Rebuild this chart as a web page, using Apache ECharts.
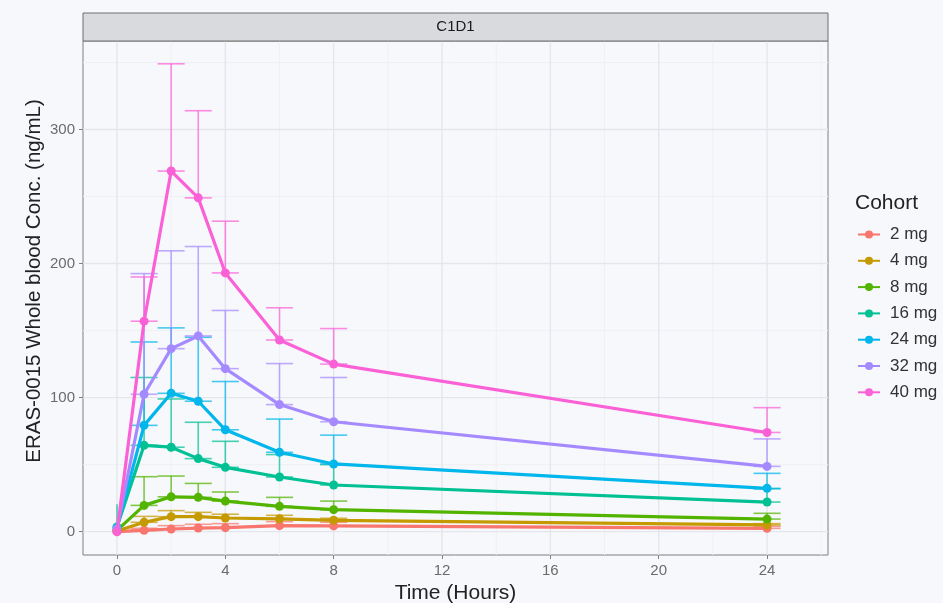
<!DOCTYPE html>
<html>
<head>
<meta charset="utf-8">
<script src="https://cdn.jsdelivr.net/npm/echarts@6/dist/echarts.min.js"></script>
<style>
  html, body { margin: 0; padding: 0; background: #f7f8fc; }
  #chart { width: 943px; height: 603px; }
</style>
</head>
<body>
<div id="chart"></div>
<script>
// sampling times (hours)
const times = [0, 1, 2, 3, 4, 6, 8, 24]
const cohorts = ['2 mg', '4 mg', '8 mg', '16 mg', '24 mg', '32 mg', '40 mg']
const colorList = ['#F8766D', '#C49A00', '#53B400', '#00C094', '#00B6EB', '#A58AFF', '#FB61D7']

// mean concentration per cohort
const mean2 = [0, 1, 2, 2.7, 3, 4.5, 4.3, 2.5]
const mean4 = [0.5, 7, 11.2, 11.2, 10.2, 9.6, 8.5, 5]
const mean8 = [1, 19.6, 26, 25.6, 22.8, 18.9, 16.4, 9.4]
const mean16 = [3.5, 64.4, 63, 54.5, 48, 40.8, 34.8, 22.1]
const mean24 = [3, 79.3, 103.2, 97.3, 76, 59.2, 50.5, 32.3]
const mean32 = [2, 102.5, 136.5, 146, 121.6, 94.8, 82, 48.7]
const mean40 = [0, 157, 269, 249, 193, 143, 125, 74]

// mean + SD (upper end of error bar), null = no bar
const upper2 = [null, 2.5, 4.5, 5.5, 6, 7.5, 7, 4]
const upper4 = [null, 11.4, 15.7, 14.4, 13, 12.2, 10, 6]
const upper8 = [null, 41, 41.5, 36, 29.6, 25.6, 22.8, 13.7]
const upper16 = [20.5, 115, 99, 81.6, 67.4, 57.5, 50, 32]
const upper24 = [null, 141.5, 152, 145, 112, 84, 72, 43.5]
const upper32 = [null, 192.5, 209.5, 212.7, 165, 125.4, 115, 69.2]
const upper40 = [null, 190, 349, 314, 231.6, 167, 151.5, 92.5]

const means = [mean2, mean4, mean8, mean16, mean24, mean32, mean40]
const uppers = [upper2, upper4, upper8, upper16, upper24, upper32, upper40]

// axis ticks / grid lines
const xTicks = [0, 4, 8, 12, 16, 20, 24]
const xMinor = [2, 6, 10, 14, 18, 22, 26]
const yTicks = [0, 100, 200, 300]
const yMinor = [50, 150, 250, 350]

const fontFamily = '"Liberation Sans", Arial, sans-serif'
const chart = echarts.init(document.getElementById('chart'))

// grid line series (vertical / horizontal)
const gridLineSeries = (vals, dir, color, width) => ({
    type: 'custom',
    silent: true,
    z: 0,
    data: vals.map(v => [v]),
    renderItem: (params, api) => {
        const cs = params.coordSys
        const v = api.value(0)
        let shape
        if (dir === 'x') {
            const px = api.coord([v, 0])[0]
            shape = { x1: px, y1: cs.y, x2: px, y2: cs.y + cs.height }
        } else {
            const py = api.coord([0, v])[1]
            shape = { x1: cs.x, y1: py, x2: cs.x + cs.width, y2: py }
        }
        return { type: 'line', shape, style: { stroke: color, lineWidth: width } }
    }
})

// error bars: from mean up to mean+SD, caps at both ends (no caps at t = 0)
const errorBarSeries = (idx) => ({
    type: 'custom',
    name: 'eb-' + cohorts[idx],
    silent: true,
    z: 2 + idx * 0.01,
    data: times.map((t, i) => [t, means[idx][i], uppers[idx][i]]).filter(d => d[2] !== null),
    renderItem: (params, api) => {
        const t = api.value(0)
        const lo = api.coord([t, api.value(1)])
        const hi = api.coord([t, api.value(2)])
        const hw = api.size([0.5, 0])[0]
        const style = { stroke: colorList[idx], lineWidth: 1.6, opacity: 0.72 }
        const children = [
            { type: 'line', shape: { x1: lo[0], y1: lo[1], x2: hi[0], y2: hi[1] }, style }
        ]
        if (t > 0) {
            children.push(
                { type: 'line', shape: { x1: hi[0] - hw, y1: hi[1], x2: hi[0] + hw, y2: hi[1] }, style },
                { type: 'line', shape: { x1: lo[0] - hw, y1: lo[1], x2: lo[0] + hw, y2: lo[1] }, style }
            )
        }
        return { type: 'group', children }
    }
})

const lineSeries = cohorts.map((name, idx) => ({
    type: 'line',
    name: name,
    z: 3 + idx * 0.01,
    data: times.map((t, i) => [t, means[idx][i]]),
    symbol: 'circle',
    symbolSize: 9,
    showSymbol: true,
    lineStyle: { width: 3.2, color: colorList[idx] },
    itemStyle: { color: colorList[idx] },
    animation: false
}))

const option = {
    backgroundColor: '#f7f8fc',
    animation: false,
    color: colorList,
    grid: {
        left: 83,
        top: 41,
        width: 745,
        height: 514,
        containLabel: false,
        outerBoundsMode: 'none',
        show: true,
        backgroundColor: 'transparent',
        borderColor: '#7f7f7f',
        borderWidth: 1
    },
    xAxis: {
        type: 'value',
        min: -1.255,
        max: 26.25,
        name: 'Time (Hours)',
        nameLocation: 'middle',
        nameGap: 27,
        nameTextStyle: { fontSize: 21, color: '#222', fontFamily },
        axisLine: { show: false, onZero: false },
        axisTick: { show: true, length: 4, customValues: xTicks, lineStyle: { color: '#7f7f7f' } },
        axisLabel: { customValues: xTicks, fontSize: 15, color: '#6b6b6b', margin: 8, fontFamily },
        splitLine: { show: false }
    },
    yAxis: {
        type: 'value',
        min: -17.4,
        max: 366,
        axisLine: { show: false, onZero: false },
        axisTick: { show: true, length: 4, customValues: yTicks, lineStyle: { color: '#7f7f7f' } },
        axisLabel: { customValues: yTicks, fontSize: 15, color: '#6b6b6b', margin: 8, fontFamily },
        splitLine: { show: false }
    },
    legend: {
        orient: 'vertical',
        left: 857,
        top: 226,
        padding: 0,
        data: cohorts,
        itemWidth: 22,
        itemHeight: 10,
        itemGap: 9.3,
        textStyle: { fontSize: 17, color: '#333', lineHeight: 17, padding: [0, 0, 0, 5], fontFamily },
        selectedMode: false
    },
    graphic: [
        {
            type: 'rect',
            shape: { x: 83, y: 13, width: 745, height: 28 },
            style: { fill: '#d9dade', stroke: '#6e6e6e', lineWidth: 1 },
            z: 10
        },
        {
            type: 'text',
            x: 455.5,
            y: 27,
            style: { text: 'C1D1', fill: '#1a1a1a', fontSize: 15, fontFamily, align: 'center', verticalAlign: 'middle' },
            z: 11
        },
        {
            type: 'text',
            x: 34,
            y: 281,
            rotation: Math.PI / 2,
            style: { text: 'ERAS-0015 Whole blood Conc. (ng/mL)', fill: '#222', fontSize: 20.5, fontFamily, align: 'center', verticalAlign: 'middle' }
        },
        {
            type: 'text',
            x: 855,
            y: 203,
            style: { text: 'Cohort', fill: '#222', fontSize: 21, fontFamily, align: 'left', verticalAlign: 'middle' }
        }
    ],
    series: [
        ...lineSeries,
        gridLineSeries(xMinor, 'x', '#eef0f4', 1),
        gridLineSeries(yMinor, 'y', '#eef0f4', 1),
        gridLineSeries(xTicks, 'x', '#e4e6eb', 1.4),
        gridLineSeries(yTicks, 'y', '#e4e6eb', 1.4),
        ...cohorts.map((c, idx) => errorBarSeries(idx))
    ]
}

chart.setOption(option)
</script>
</body>
</html>
